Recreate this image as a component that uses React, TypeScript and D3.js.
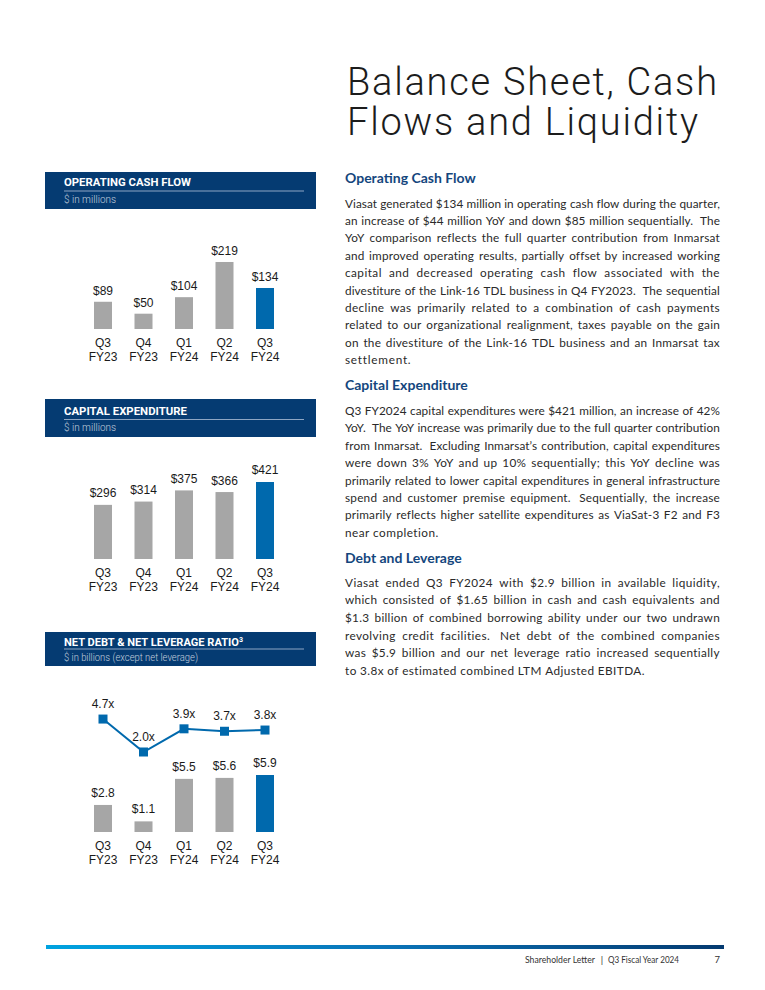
import React, { useLayoutEffect, useRef, useState } from 'react';
import * as d3 from 'd3';

// ---------- chart data ----------
const quarters = ['Q3', 'Q4', 'Q1', 'Q2', 'Q3'];
const fiscalYears = ['FY23', 'FY23', 'FY24', 'FY24', 'FY24'];
const opCashFlow = [89, 50, 104, 219, 134];
const capex = [296, 314, 375, 366, 421];
const netDebt = [2.8, 1.1, 5.5, 5.6, 5.9];
const netLeverage = [4.7, 2.0, 3.9, 3.7, 3.8];

// ---------- text content ----------
const titleLines = ['Balance Sheet, Cash', 'Flows and Liquidity'];
const ocfText = [
  'Viasat generated $134 million in operating cash flow during the quarter,',
  'an increase of $44 million YoY and down $85 million sequentially.  The',
  'YoY comparison reflects the full quarter contribution from Inmarsat',
  'and improved operating results, partially offset by increased working',
  'capital and decreased operating cash flow associated with the',
  'divestiture of the Link-16 TDL business in Q4 FY2023.  The sequential',
  'decline was primarily related to a combination of cash payments',
  'related to our organizational realignment, taxes payable on the gain',
  'on the divestiture of the Link-16 TDL business and an Inmarsat tax',
  'settlement.',
];
const capexText = [
  'Q3 FY2024 capital expenditures were $421 million, an increase of 42%',
  'YoY.  The YoY increase was primarily due to the full quarter contribution',
  'from Inmarsat.  Excluding Inmarsat\u2019s contribution, capital expenditures',
  'were down 3% YoY and up 10% sequentially; this YoY decline was',
  'primarily related to lower capital expenditures in general infrastructure',
  'spend and customer premise equipment.  Sequentially, the increase',
  'primarily reflects higher satellite expenditures as ViaSat-3 F2 and F3',
  'near completion.',
];
const debtText = [
  'Viasat ended Q3 FY2024 with $2.9 billion in available liquidity,',
  'which consisted of $1.65 billion in cash and cash equivalents and',
  '$1.3 billion of combined borrowing ability under our two undrawn',
  'revolving credit facilities.  Net debt of the combined companies',
  'was $5.9 billion and our net leverage ratio increased sequentially',
  'to 3.8x of estimated combined LTM Adjusted EBITDA.',
];

const NAVY = '#053b72';
const HEAD_BLUE = '#14467d';
const GRAY = '#a6a6a6';
const BLUE = '#0069ad';
const BODY = '#2a2a2a';
const BODY_FONT = 'Lato, "Noto Sans", sans-serif';
const CHART_FONT = '"Liberation Sans", Arial, sans-serif';

function splitLine(line: string) {
  const words: string[] = [];
  const weights: number[] = [];
  let pending = 0;
  line.split(' ').forEach((t) => {
    if (t.length === 0) pending += 1;
    else {
      if (words.length) weights.push(pending + 1);
      pending = 0;
      words.push(t);
    }
  });
  return { words, weights };
}

function Paragraph({ lines, x0, x1, y0, lh, fs, lastW, id }: any) {
  return (
    <g fontFamily={BODY_FONT} fontSize={fs} fill={BODY}>
      {lines.map((line: string, i: number) => {
        const { words, weights } = splitLine(line);
        const last = i === lines.length - 1;
        return (
          <text
            key={id + i}
            className="jline"
            data-x0={x0}
            data-target={last ? lastW : x1 - x0}
            data-last={last ? 1 : 0}
            data-weights={weights.join(',')}
            data-fs={fs}
            x={x0}
            y={y0 + i * lh}
          >
            {words.map((w, j) => (
              <tspan key={j} x={x0}>
                {w}
              </tspan>
            ))}
          </text>
        );
      })}
    </g>
  );
}

function Header({ y, h, title, sub, titleBase, lineY, subBase, titleW, subW, sup }: any) {
  return (
    <g>
      <rect x={45} y={y} width={271} height={h} fill={NAVY} />
      <text
        x={64}
        y={titleBase}
        fontFamily='Roboto, "Open Sans", sans-serif'
        fontWeight={700}
        fontSize={11}
        fill="#ffffff"
        textLength={titleW}
        lengthAdjust="spacingAndGlyphs"
      >
        {title}
        {sup ? (
          <tspan fontSize={7} dy={-4}>
            {sup}
          </tspan>
        ) : null}
      </text>
      <line x1={64} x2={304} y1={lineY} y2={lineY} stroke="#8ea6c4" strokeWidth={1} />
      <text
        x={64}
        y={subBase}
        fontFamily='Roboto, "Open Sans", sans-serif'
        fontWeight={300}
        fontSize={10}
        fill="#c3cfdd"
        textLength={subW}
        lengthAdjust="spacingAndGlyphs"
      >
        {sub}
      </text>
    </g>
  );
}

const xPos = d3.scalePoint<number>().domain(d3.range(quarters.length)).range([103, 265]);
const BAR_W = 18;

function Bars({ values, y, fmt, labelOff }: any) {
  const base = y(0);
  return (
    <g fontFamily={CHART_FONT} fontSize={12} fill="#1a1a1a" textAnchor="middle">
      {values.map((v: number, i: number) => (
        <g key={i}>
          <rect
            x={(xPos(i) as number) - BAR_W / 2}
            y={y(v)}
            width={BAR_W}
            height={base - y(v)}
            fill={i === values.length - 1 ? BLUE : GRAY}
          />
          <text x={xPos(i)} y={y(v) - labelOff}>
            {fmt(v)}
          </text>
          <text x={xPos(i)} y={base + 18}>
            {quarters[i]}
          </text>
          <text x={xPos(i)} y={base + 31.5}>
            {fiscalYears[i]}
          </text>
        </g>
      ))}
    </g>
  );
}

export default function App() {
  const svgRef = useRef<SVGSVGElement>(null);
  const calRef = useRef<SVGTextElement>(null);
  const [bodyFs, setBodyFs] = useState(13);
  const [ready, setReady] = useState(false);

  // calibrate body font size: the tightest reference line spans ~370px naturally
  useLayoutEffect(() => {
    if (ready) return;
    const a = calRef.current;
    if (!a) return;
    const wa = a.getComputedTextLength();
    if (wa > 0) setBodyFs(Math.max(11.5, Math.min(13.5, (13 * 370) / wa)));
    setReady(true);
  }, [ready]);

  // justify: some extra room goes to letter-spacing, the rest to word gaps
  useLayoutEffect(() => {
    const svg = svgRef.current;
    if (!svg) return;
    d3.select(svg)
      .selectAll<SVGTextElement, unknown>('text.jline')
      .each(function () {
        const el = this;
        el.setAttribute('letter-spacing', '0');
        const x0 = +(el.getAttribute('data-x0') || 0);
        const target = +(el.getAttribute('data-target') || 0);
        const last = el.getAttribute('data-last') === '1';
        const fs = +(el.getAttribute('data-fs') || 13);
        const wstr = el.getAttribute('data-weights') || '';
        const weights = wstr.length ? wstr.split(',').map(Number) : [];
        const spans = Array.from(el.querySelectorAll('tspan')) as SVGTSpanElement[];
        const words = spans.map((s) => s.textContent || '');
        const widths = spans.map((s) => s.getComputedTextLength());
        const chars = d3.sum(words, (w) => w.length) + d3.sum(weights);
        const space = fs * 0.24;
        const natural = d3.sum(widths) + d3.sum(weights) * space;
        const extraAll = target - natural;
        let ls = 0;
        if (last) ls = Math.max(0, Math.min(1.2, extraAll / chars));
        else ls = Math.max(0, Math.min(0.45, (0.5 * extraAll) / chars));
        el.setAttribute('letter-spacing', String(ls));
        const w2 = widths.map((w, j) => w + ls * words[j].length);
        const sp = space + ls;
        const base = d3.sum(w2) + d3.sum(weights) * sp;
        const gapExtra = last || spans.length < 2 ? 0 : (target - base) / (spans.length - 1);
        let cx = x0;
        spans.forEach((s, j) => {
          s.setAttribute('x', String(cx));
          cx += w2[j] + (j < weights.length ? weights[j] * sp + gapExtra : 0);
        });
      });
  });

  const yOcf = d3.scaleLinear().domain([0, 250]).range([329, 329 - 250 * 0.306]);
  const yCapex = d3.scaleLinear().domain([0, 500]).range([559, 559 - 500 * 0.1829]);
  const yDebt = d3.scaleLinear().domain([0, 6]).range([832, 832 - 6 * 9.66]);
  const yLev = d3.scaleLinear().domain([0, 5]).range([776.4, 776.4 - 5 * 12.2]);
  const levLine = d3
    .line<number>()
    .x((_, i) => xPos(i) as number)
    .y((d) => yLev(d));

  return (
    <svg
      ref={svgRef}
      width={765}
      height={990}
      viewBox="0 0 765 990"
      style={{ position: 'absolute', left: 0, top: 0, background: '#fff' }}
    >
      <defs>
        <linearGradient id="footGrad" x1="0" x2="1" y1="0" y2="0">
          <stop offset="0" stopColor="#00a3e0" />
          <stop offset="0.5" stopColor="#0a74b8" />
          <stop offset="1" stopColor="#043a70" />
        </linearGradient>
      </defs>

      {/* hidden calibration text */}
      <g opacity={0} fontFamily={BODY_FONT} fontSize={13}>
        <text ref={calRef} x={0} y={-50}>
          {ocfText[0]}
        </text>
      </g>

      {/* Title */}
      <g fontFamily='Roboto, "Open Sans", sans-serif' fontWeight={300} fontSize={38} fill="#1c1c1c">
        <text x={347} y={95} textLength={370} lengthAdjust="spacing">
          {titleLines[0]}
        </text>
        <text x={347} y={135} textLength={351} lengthAdjust="spacing">
          {titleLines[1]}
        </text>
      </g>

      {/* Headings + paragraphs */}
      <g fontFamily={BODY_FONT} fontWeight={700} fontSize={14} fill={HEAD_BLUE}>
        <text x={345} y={183}>Operating Cash Flow</text>
        <text x={345} y={390}>Capital Expenditure</text>
        <text x={345} y={563}>Debt and Leverage</text>
      </g>
      <Paragraph id="a" lines={ocfText} x0={345} x1={720} y0={207.5} lh={17.4} fs={bodyFs} lastW={66} />
      <Paragraph id="b" lines={capexText} x0={345} x1={720} y0={415} lh={17.4} fs={bodyFs} lastW={94} />
      <Paragraph id="c" lines={debtText} x0={345} x1={720} y0={586.5} lh={17.7} fs={bodyFs} lastW={300} />

      {/* Panel headers */}
      <Header
        y={172}
        h={37}
        title="OPERATING CASH FLOW"
        sub="$ in millions"
        titleBase={186}
        lineY={191}
        subBase={202.5}
        titleW={127}
        subW={52}
      />
      <Header
        y={399}
        h={38}
        title="CAPITAL EXPENDITURE"
        sub="$ in millions"
        titleBase={415}
        lineY={419.5}
        subBase={430.5}
        titleW={123}
        subW={52}
      />
      <Header
        y={632}
        h={34}
        title="NET DEBT & NET LEVERAGE RATIO"
        sup="3"
        sub="$ in billions (except net leverage)"
        titleBase={646}
        lineY={649}
        subBase={661}
        titleW={179}
        subW={134}
      />

      {/* Charts */}
      <Bars values={opCashFlow} y={yOcf} fmt={(v: number) => `$${v}`} labelOff={7} />
      <Bars values={capex} y={yCapex} fmt={(v: number) => `$${v}`} labelOff={7.5} />
      <Bars values={netDebt} y={yDebt} fmt={(v: number) => `$${v.toFixed(1)}`} labelOff={8} />

      <path d={levLine(netLeverage) || ''} fill="none" stroke={BLUE} strokeWidth={2} />
      <g fontFamily={CHART_FONT} fontSize={12} fill="#1a1a1a" textAnchor="middle">
        {netLeverage.map((v, i) => (
          <g key={i}>
            <rect x={(xPos(i) as number) - 4.5} y={yLev(v) - 4.5} width={9} height={9} fill={BLUE} />
            <text x={xPos(i)} y={yLev(v) - 11}>
              {`${v.toFixed(1)}x`}
            </text>
          </g>
        ))}
      </g>

      {/* Footer */}
      <rect x={46} y={945} width={678} height={4} fill="url(#footGrad)" />
      <g fontFamily={BODY_FONT} fontSize={9.5} fill="#333">
        <text x={525} y={963} textLength={70} lengthAdjust="spacingAndGlyphs">Shareholder Letter</text>
        <text x={602} y={963} textAnchor="middle">|</text>
        <text x={608} y={963} textLength={71} lengthAdjust="spacingAndGlyphs">Q3 Fiscal Year 2024</text>
        <text x={720} y={963} textAnchor="end">7</text>
      </g>
    </svg>
  );
}
